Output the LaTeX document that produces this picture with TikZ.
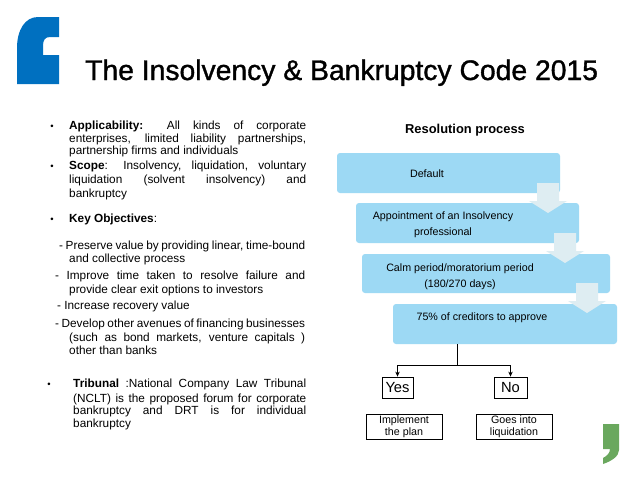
\documentclass[tikz,border=0pt]{standalone}
\usepackage{fontspec}
\setmainfont{Liberation Sans}
\newfontfamily\titlefont[FakeBold=1.2]{Liberation Sans}
\usetikzlibrary{arrows.meta}
\definecolor{qblue}{RGB}{0,112,192}
\definecolor{qgreen}{RGB}{106,168,94}
\definecolor{boxblue}{RGB}{157,217,244}
\definecolor{arrowpale}{RGB}{222,237,242}
\newcommand{\bodyfont}{\fontsize{11.8}{13}\selectfont}
\newcommand{\boxfont}{\fontsize{10.7}{12}\selectfont}
\newcommand{\jline}[2]{\makebox[#1pt][s]{#2}}
\newcommand{\palearrow}[3]{%
  \fill[arrowpale] (#1-11,#2) -- (#1+11,#2) -- (#1+11,#3) -- (#1+19,#3) -- (#1,#3+12) -- (#1-19,#3) -- (#1-11,#3) -- cycle;}
\begin{document}
\begin{tikzpicture}[x=1pt,y=-1pt,
  txt/.style={inner sep=0pt, anchor=base west, font=\bodyfont},
  bul/.style={inner sep=0pt, anchor=base, font=\fontsize{9.5}{10}\selectfont},
  pbox/.style={draw=none, fill=boxblue, rounded corners=3pt, inner sep=0pt},
  btxt/.style={inner sep=0pt, anchor=base, font=\boxfont},
  obox/.style={draw=black, line width=0.8pt, inner sep=1pt, align=center},
  conn/.style={draw=black, line width=0.8pt},
  tip/.style={-{Stealth[length=5pt,width=4.5pt]}}]
\useasboundingbox (0,0) rectangle (638,479);
\fill[white] (0,0) rectangle (638,479);

% quote marks
\fill[qblue] (17,84) -- (17,48) .. controls (17,30) and (25,17) .. (38,17) -- (59,17) -- (59,37) -- (50,37) .. controls (45,37) and (43,40) .. (43,46) -- (43,55) -- (59,55) -- (59,84) -- cycle;
\fill[qgreen] (603,424) -- (619,424) -- (619,450) .. controls (619,456) and (612,461) .. (603,464) -- (603,458) .. controls (607,456) and (610,453) .. (610,449) -- (603,449) -- cycle;

% title
\node[anchor=base west, inner sep=0pt, font=\titlefont\fontsize{28.3}{30}\selectfont] (title) at (85,80) {The Insolvency \& Bankruptcy Code 2015};

% left column
\node[bul] (b1) at (52,129) {•};
\node[txt] (l1) at (69,129) {\jline{237}{\textbf{Applicability:} All kinds of corporate}};
\node[txt] (l2) at (69,142) {\jline{237}{enterprises, limited liability partnerships,}};
\node[txt] (l3) at (69,154) {partnership firms and individuals};
\node[bul] (b2) at (52,169) {•};
\node[txt] (l4) at (69,169) {\jline{237}{\textbf{Scope}: Insolvency, liquidation, voluntary}};
\node[txt] (l5) at (69,183) {\jline{237}{liquidation (solvent insolvency) and}};
\node[txt] (l6) at (69,197) {bankruptcy};
\node[bul] (b3) at (52,222) {•};
\node[txt] (l7) at (69,222) {\textbf{Key Objectives}:};
\node[txt] (l8) at (59,249) {\jline{246}{- Preserve value by providing linear, time-bound}};
\node[txt] (l9) at (69,262) {and collective process};
\node[txt] (l10) at (55,279) {\jline{250}{- Improve time taken to resolve failure and}};
\node[txt] (l11) at (69,293) {provide clear exit options to investors};
\node[txt] (l12) at (57,309) {- Increase recovery value};
\node[txt] (l13) at (55,327) {\jline{250}{- Develop other avenues of financing businesses}};
\node[txt] (l14) at (69,341) {\jline{236}{(such as bond markets, venture capitals )}};
\node[txt] (l15) at (69,354) {other than banks};
\node[bul] (b4) at (49,387) {•};
\node[txt] (l16) at (73,387) {\jline{233}{\textbf{Tribunal} :National Company Law Tribunal}};
\node[txt] (l17) at (73,402) {\jline{233}{(NCLT) is the proposed forum for corporate}};
\node[txt] (l18) at (73,414) {\jline{233}{bankruptcy and DRT is for individual}};
\node[txt] (l19) at (73,427) {bankruptcy};

% right column
\node[inner sep=0pt, anchor=base, font=\fontsize{12.9}{14}\selectfont\bfseries] (rp) at (465,133) {Resolution process};

\node[pbox, minimum width=223pt, minimum height=40pt] (p1) at (448.5,173) {};
\node[pbox, minimum width=223pt, minimum height=40pt] (p2) at (467.5,223) {};
\node[pbox, minimum width=248pt, minimum height=39pt] (p3) at (486,273.5) {};
\node[pbox, minimum width=224pt, minimum height=40pt] (p4) at (505,324) {};

\palearrow{548}{183}{201}
\palearrow{565}{233}{251}
\palearrow{587}{283}{301}

\node[btxt] (t1) at (427,177) {Default};
\node[btxt] (t2a) at (443,219) {Appointment of an Insolvency};
\node[btxt] (t2b) at (443,235) {professional};
\node[btxt] (t3a) at (460,271) {Calm period/moratorium period};
\node[btxt] (t3b) at (460,287) {(180/270 days)};
\node[btxt] (t4) at (482,320) {75\% of creditors to approve};

% decision tree
\coordinate (split) at (457,365);
\node[obox, minimum width=31pt, minimum height=21pt, inner sep=0pt, font=\fontsize{14.7}{15}\selectfont] (yes) at (397.5,387.5) {Yes};
\node[obox, minimum width=33pt, minimum height=21pt, inner sep=0pt, font=\fontsize{14.7}{15}\selectfont] (no) at (510.5,387.5) {No};
\node[obox, minimum width=76pt, minimum height=25pt, font=\boxfont] (impl) at (404,426.5) {Implement\\the plan};
\node[obox, minimum width=76pt, minimum height=25pt, font=\boxfont] (liq) at (514,426.5) {Goes into\\liquidation};

\draw[conn] (split |- p4.south) -- (split);
\draw[conn, tip] (split) -| (yes.north);
\draw[conn, tip] (split) -| (no.north);
\end{tikzpicture}
\end{document}
